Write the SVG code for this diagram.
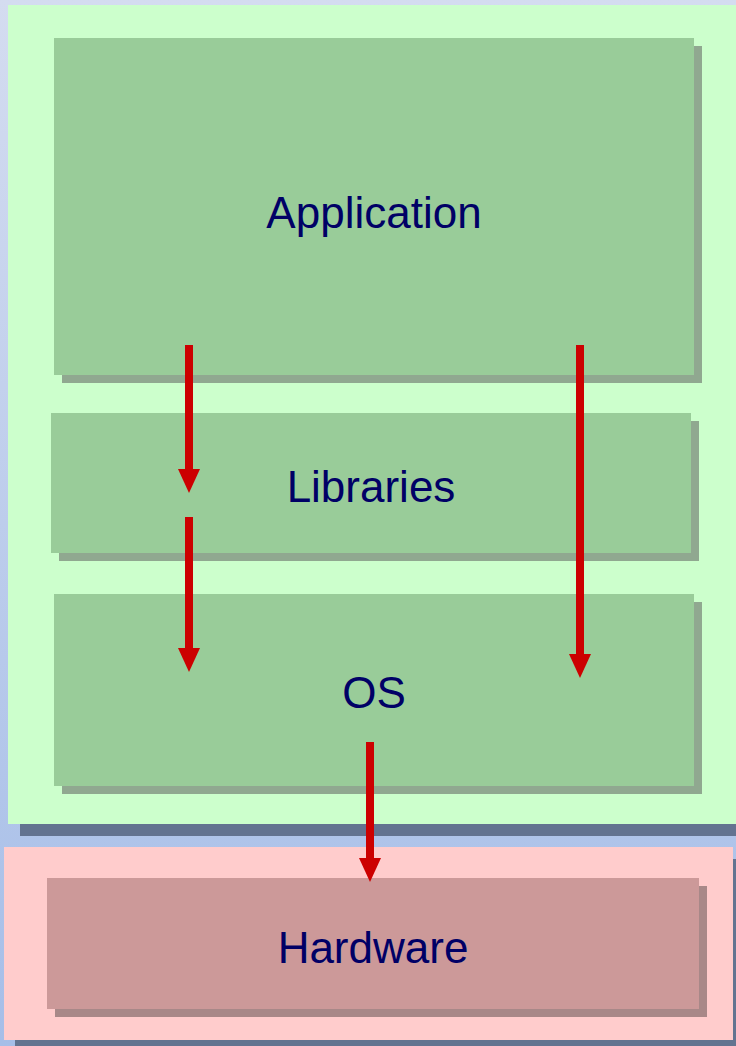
<svg xmlns="http://www.w3.org/2000/svg" width="736" height="1046" viewBox="0 0 736 1046">
<defs>
<linearGradient id="bg" x1="0" y1="0" x2="0" y2="1">
<stop offset="0" stop-color="#D4DCF0"/>
<stop offset="1" stop-color="#A6BEE8"/>
</linearGradient>
<marker id="ah" viewBox="0 0 24 22" refX="1" refY="11" markerWidth="24" markerHeight="22" markerUnits="userSpaceOnUse" orient="auto">
<path d="M0,0 L24,11 L0,22 Z" fill="#CC0000"/>
</marker>
</defs>
<style>
.lbl{font-family:"Liberation Sans",Arial,sans-serif;font-size:44px;fill:#000066;text-anchor:middle}
.gbox{fill:#99CC99}
.gsh{fill:#90A890}
.rbox{fill:#CC9999}
.rsh{fill:#A88888}
.dsh{fill:#637390}
.arr{stroke:#CC0000;stroke-width:8;fill:none}
</style>
<rect width="736" height="1046" fill="url(#bg)"/>
<g id="container-top">
<rect class="dsh" x="20" y="17" width="730" height="819"/>
<rect x="8" y="5" width="740" height="819" fill="#CCFFCC"/>
</g>
<g id="container-bottom">
<rect class="dsh" x="15" y="859" width="730" height="200"/>
<rect x="4" y="847" width="729" height="193" fill="#FFCCCC"/>
</g>
<g id="application">
<rect class="gsh" x="62" y="46" width="640" height="337"/>
<rect class="gbox" x="54" y="38" width="640" height="337"/>
<text class="lbl" x="374" y="228">Application</text>
</g>
<g id="libraries">
<rect class="gsh" x="59" y="421" width="640" height="140"/>
<rect class="gbox" x="51" y="413" width="640" height="140"/>
<text class="lbl" x="371" y="502">Libraries</text>
</g>
<g id="os">
<rect class="gsh" x="62" y="602" width="640" height="192"/>
<rect class="gbox" x="54" y="594" width="640" height="192"/>
<text class="lbl" x="374" y="708">OS</text>
</g>
<g id="hardware">
<rect class="rsh" x="55" y="886" width="652" height="131"/>
<rect class="rbox" x="47" y="878" width="652" height="131"/>
<text class="lbl" x="373" y="963">Hardware</text>
</g>
<g id="connectors">
<line class="arr" x1="189" y1="345" x2="189" y2="470" marker-end="url(#ah)"/>
<line class="arr" x1="189" y1="517" x2="189" y2="649" marker-end="url(#ah)"/>
<line class="arr" x1="580" y1="345" x2="580" y2="655" marker-end="url(#ah)"/>
<line class="arr" x1="370" y1="742" x2="370" y2="859" marker-end="url(#ah)"/>
</g>
</svg>
